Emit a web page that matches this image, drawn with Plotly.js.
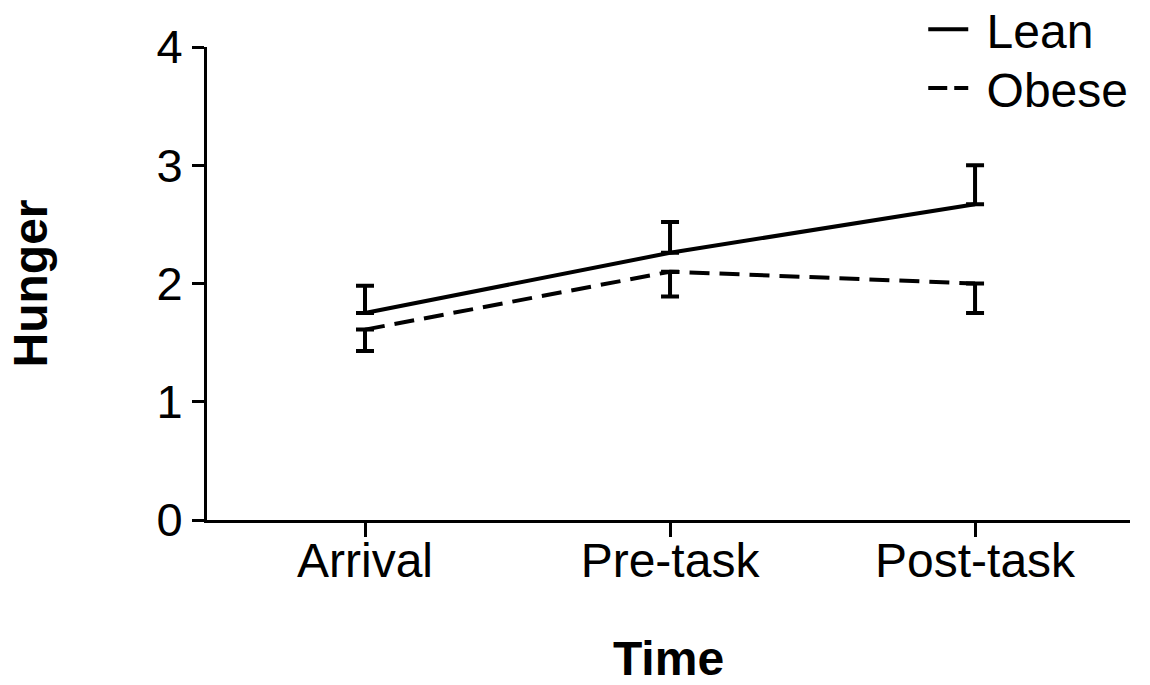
<!DOCTYPE html>
<html>
<head>
<meta charset="utf-8">
<script src="https://cdn.plot.ly/plotly-3.0.1.min.js"></script>
<style>html,body{margin:0;padding:0;background:#fff;}#chart{width:1150px;height:685px;}</style>
</head>
<body>
<div id="chart"></div>
<script>
const categories = ["Arrival", "Pre-task", "Post-task"];
const leanMean = [1.75, 2.26, 2.67];
const leanErr = [0.23, 0.26, 0.33];
const obeseMean = [1.61, 2.10, 2.00];
const obeseErr = [0.18, 0.21, 0.25];
const yTicks = [0, 1, 2, 3, 4];
const seriesNames = ["Lean", "Obese"];

const xIdx = categories.map((c, i) => i);

const traces = [
  {
    x: xIdx, y: leanMean, name: seriesNames[0], mode: "lines", showlegend: false,
    line: {color: "#000", width: 4, dash: "solid"},
    error_y: {type: "data", symmetric: false, array: leanErr, arrayminus: leanErr.map(() => 0),
              color: "#000", thickness: 4, width: 9}
  },
  {
    x: xIdx, y: obeseMean, name: seriesNames[1], mode: "lines", showlegend: false,
    line: {color: "#000", width: 4, dash: "20px,10px"},
    error_y: {type: "data", symmetric: false, array: obeseErr.map(() => 0), arrayminus: obeseErr,
              color: "#000", thickness: 4, width: 9}
  },
  // legend-only entries (no data)
  {x: [null], y: [null], name: "&nbsp;" + seriesNames[0], mode: "lines", legend: "legend",
   line: {color: "#000", width: 4, dash: "solid"}},
  {x: [null], y: [null], name: "&nbsp;" + seriesNames[1], mode: "lines", legend: "legend2",
   line: {color: "#000", width: 4, dash: "19px,7px"}}
];

const font = "Liberation Sans, Arial, sans-serif";
const legendBase = {xanchor: "left", yanchor: "top", bgcolor: "rgba(0,0,0,0)",
                    font: {size: 48, family: font}, itemwidth: 40};
const layout = {
  width: 1150, height: 685,
  margin: {l: 207, r: 20, t: 47, b: 164.5, autoexpand: false},
  paper_bgcolor: "#fff", plot_bgcolor: "#fff",
  font: {family: font, color: "#000", size: 48},
  showlegend: true,
  legend: Object.assign({x: 0.776, y: 1.117}, legendBase),
  legend2: Object.assign({x: 0.776, y: 0.993}, legendBase),
  xaxis: {
    range: [-0.518, 2.508], tickvals: xIdx, ticktext: categories,
    showgrid: false, zeroline: false, showline: true, linecolor: "#000", linewidth: 3,
    ticks: "outside", ticklen: 14, tickwidth: 3, tickcolor: "#000",
    ticklabelstandoff: -18,
    tickfont: {size: 48, family: font},
    title: {text: "<b>Time</b>", font: {size: 48, family: font}, standoff: 62}
  },
  yaxis: {
    range: [0, 4], tickvals: yTicks,
    showgrid: false, zeroline: false, showline: true, linecolor: "#000", linewidth: 3,
    ticks: "outside", ticklen: 12, tickwidth: 3, tickcolor: "#000",
    tickfont: {size: 47, family: font},
    title: {text: "<b>Hunger</b>", font: {size: 48, family: font}, standoff: 94}
  }
};

Plotly.newPlot("chart", traces, layout, {displayModeBar: false, staticPlot: true});
</script>
</body>
</html>
